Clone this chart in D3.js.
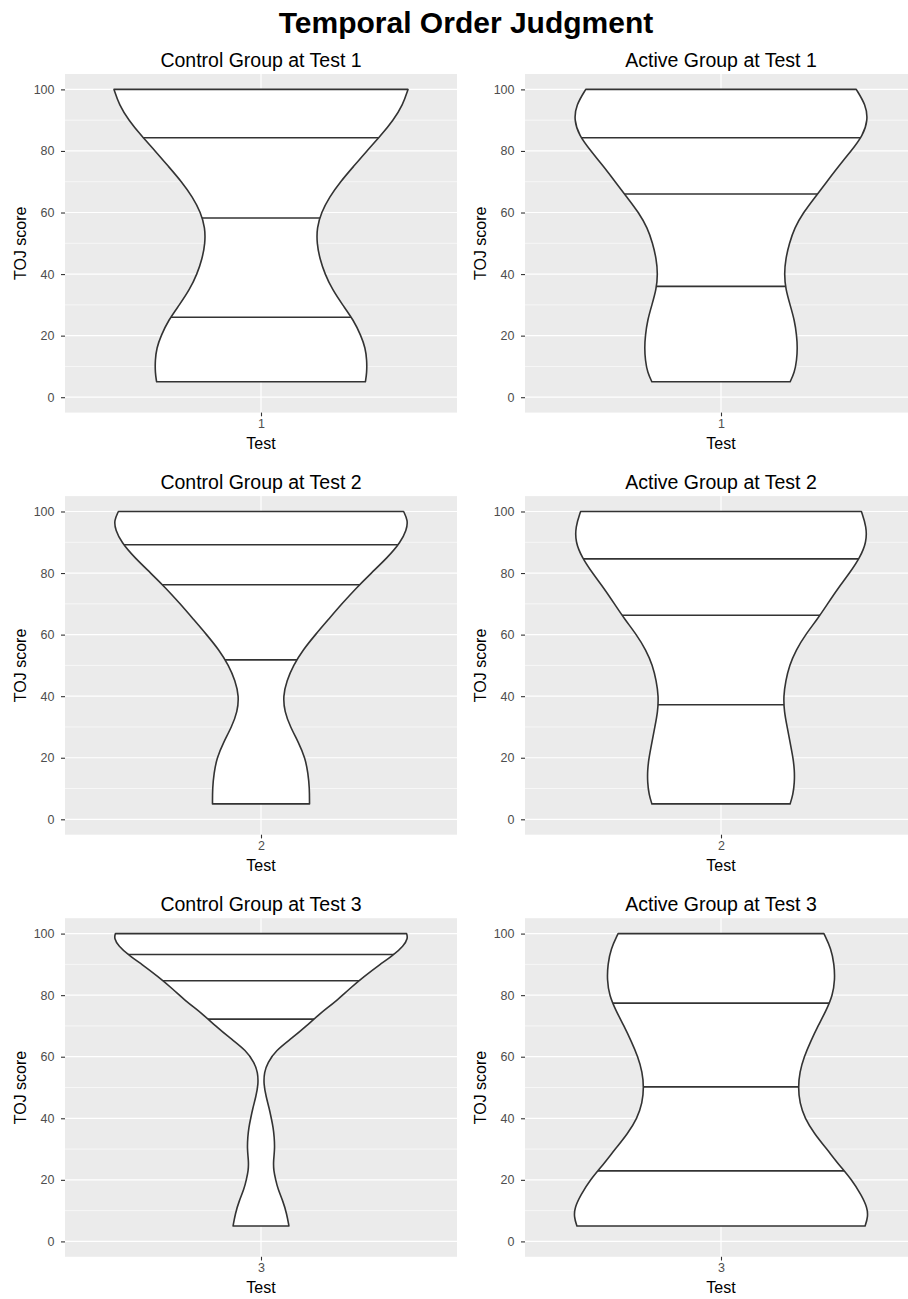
<!DOCTYPE html>
<html>
<head>
<meta charset="utf-8">
<script src="https://cdn.jsdelivr.net/npm/d3@7/dist/d3.min.js"></script>
<style>
  html, body { margin: 0; padding: 0; background: #ffffff; }
  svg { display: block; font-family: "Liberation Sans", Arial, Helvetica, sans-serif; }
</style>
</head>
<body>
<svg id="chart" width="908" height="1299"></svg>
<script>
// ---------------- data ----------------
const mainTitle = "Temporal Order Judgment";
const panelTitles = [
  "Control Group at Test 1", "Active Group at Test 1",
  "Control Group at Test 2", "Active Group at Test 2",
  "Control Group at Test 3", "Active Group at Test 3"
];
const testLabels = ["1", "1", "2", "2", "3", "3"];
const yTicks = [0, 20, 40, 60, 80, 100];
const yMinorTicks = [10, 30, 50, 70, 90];
const xAxisTitle = "Test";
const yAxisTitle = "TOJ score";

// violin outlines: [TOJ score, relative half-width (density scaled to max 1)]
const controlTest1Profile = [[5,0.71],[8,0.72],[12,0.72],[16,0.71],[20,0.68],[25,0.63],[30,0.555],[35,0.485],[40,0.435],[45,0.40],[50,0.38],[55,0.38],[60,0.41],[65,0.465],[70,0.54],[75,0.63],[80,0.72],[85,0.815],[90,0.90],[95,0.965],[100,1.0]];
const activeTest1Profile  = [[5,0.47],[8,0.50],[12,0.515],[16,0.52],[20,0.515],[25,0.50],[30,0.47],[35,0.44],[40,0.43],[45,0.44],[50,0.465],[55,0.50],[60,0.56],[65,0.64],[70,0.72],[75,0.80],[80,0.885],[85,0.965],[90,1.0],[95,0.985],[100,0.92]];
const controlTest2Profile = [[5,0.33],[10,0.33],[15,0.32],[20,0.30],[25,0.255],[30,0.20],[35,0.16],[40,0.15],[45,0.175],[50,0.22],[55,0.285],[60,0.37],[65,0.46],[70,0.55],[75,0.645],[80,0.75],[85,0.86],[90,0.95],[94,0.99],[97,1.0],[100,0.97]];
const activeTest2Profile  = [[5,0.47],[8,0.49],[12,0.50],[16,0.50],[20,0.49],[25,0.47],[30,0.45],[35,0.43],[40,0.425],[45,0.44],[50,0.465],[55,0.51],[60,0.575],[65,0.655],[70,0.725],[75,0.795],[80,0.875],[85,0.945],[90,0.99],[95,0.99],[100,0.955]];
const controlTest3Profile = [[5,0.19],[9,0.175],[13,0.15],[17,0.115],[20,0.10],[23,0.086],[26,0.084],[30,0.094],[34,0.09],[37,0.083],[40,0.07],[43,0.057],[47,0.035],[51,0.018],[55,0.022],[58,0.045],[62,0.10],[66,0.21],[70,0.31],[74,0.40],[78,0.51],[82,0.60],[86,0.70],[90,0.81],[93,0.90],[96,0.97],[98.5,1.0],[100,0.99]];
const activeTest3Profile  = [[5,0.98],[8,1.0],[11,0.995],[15,0.955],[20,0.89],[25,0.80],[30,0.72],[35,0.635],[40,0.57],[45,0.535],[50,0.525],[55,0.535],[60,0.565],[65,0.61],[70,0.66],[75,0.715],[80,0.76],[85,0.775],[90,0.77],[95,0.75],[100,0.70]];

// quantile lines (25%, 50%, 75%)
const controlTest1Quantiles = [26.0, 58.2, 84.3];
const activeTest1Quantiles  = [36.0, 66.0, 84.3];
const controlTest2Quantiles = [51.8, 76.2, 89.2];
const activeTest2Quantiles  = [37.2, 66.3, 84.6];
const controlTest3Quantiles = [72.2, 84.7, 93.2];
const activeTest3Quantiles  = [22.9, 50.2, 77.4];

const profiles = [controlTest1Profile, activeTest1Profile, controlTest2Profile, activeTest2Profile, controlTest3Profile, activeTest3Profile];
const quantiles = [controlTest1Quantiles, activeTest1Quantiles, controlTest2Quantiles, activeTest2Quantiles, controlTest3Quantiles, activeTest3Quantiles];

// ---------------- layout ----------------
const panelLeft = [65, 525];
const panelW = 392;
const panelTop = [74, 496.1, 918.2];
const panelH = 338.6;

const svg = d3.select("#chart");

svg.append("text")
  .attr("x", 466).attr("y", 33)
  .attr("text-anchor", "middle")
  .attr("font-size", 30).attr("font-weight", "bold")
  .attr("fill", "#000")
  .text(mainTitle);

const defs = svg.append("defs");

profiles.forEach((prof, i) => {
  const col = i % 2, row = Math.floor(i / 2);
  const left = panelLeft[col], top = panelTop[row];

  const x = d3.scalePoint().domain([testLabels[i]]).range([left, left + panelW]).padding(0.5);
  const y = d3.scaleLinear().domain([-5, 105]).range([top + panelH, top]);
  const wScale = d3.scaleLinear().domain([0, 1]).range([0, panelW / 1.2 * 0.45]);
  const cx = x(testLabels[i]);

  const g = svg.append("g");

  // panel background
  g.append("rect").attr("x", left).attr("y", top).attr("width", panelW).attr("height", panelH).attr("fill", "#EBEBEB");

  // minor grid
  g.selectAll(".minor").data(yMinorTicks).enter().append("line")
    .attr("x1", left).attr("x2", left + panelW)
    .attr("y1", d => y(d)).attr("y2", d => y(d))
    .attr("stroke", "#fff").attr("stroke-width", 0.6);
  // major grid
  g.selectAll(".major").data(yTicks).enter().append("line")
    .attr("x1", left).attr("x2", left + panelW)
    .attr("y1", d => y(d)).attr("y2", d => y(d))
    .attr("stroke", "#fff").attr("stroke-width", 1.2);
  g.append("line")
    .attr("x1", cx).attr("x2", cx).attr("y1", top).attr("y2", top + panelH)
    .attr("stroke", "#fff").attr("stroke-width", 1.2);

  // violin
  const area = d3.area()
    .curve(d3.curveBasis)
    .y(d => y(d[0]))
    .x0(d => cx - wScale(d[1]))
    .x1(d => cx + wScale(d[1]));
  const pathD = area(prof);

  defs.append("clipPath").attr("id", "vclip" + i).append("path").attr("d", pathD);

  g.append("path").attr("d", pathD)
    .attr("fill", "#fff").attr("stroke", "none");

  g.append("g").attr("clip-path", `url(#vclip${i})`)
    .selectAll("line").data(quantiles[i]).enter().append("line")
    .attr("x1", left).attr("x2", left + panelW)
    .attr("y1", d => y(d)).attr("y2", d => y(d))
    .attr("stroke", "#333").attr("stroke-width", 1.6);

  g.append("path").attr("d", pathD)
    .attr("fill", "none").attr("stroke", "#333").attr("stroke-width", 1.6)
    .attr("stroke-linejoin", "round");

  // y axis
  const yAxis = d3.axisLeft(y).tickValues(yTicks).tickSize(4).tickPadding(6.5);
  const ya = svg.append("g").attr("transform", `translate(${left},0)`).call(yAxis);
  ya.select(".domain").remove();
  ya.selectAll(".tick line").attr("stroke", "#333").attr("stroke-width", 1.1);
  ya.selectAll(".tick text").attr("fill", "#4D4D4D").attr("font-size", 12.5)
    .attr("font-family", "'Liberation Sans', Arial, sans-serif");

  // x axis
  const xAxis = d3.axisBottom(x).tickSize(3.7).tickPadding(2.6);
  const xa = svg.append("g").attr("transform", `translate(0,${top + panelH})`).call(xAxis);
  xa.select(".domain").remove();
  xa.selectAll(".tick line").attr("stroke", "#333").attr("stroke-width", 1.1);
  xa.selectAll(".tick text").attr("fill", "#4D4D4D").attr("font-size", 12.5)
    .attr("font-family", "'Liberation Sans', Arial, sans-serif");

  // titles
  svg.append("text")
    .attr("x", left + panelW / 2).attr("y", top - 7)
    .attr("text-anchor", "middle").attr("font-size", 19.5).attr("fill", "#000")
    .text(panelTitles[i]);

  svg.append("text")
    .attr("x", left + panelW / 2).attr("y", top + panelH + 36.3)
    .attr("text-anchor", "middle").attr("font-size", 16).attr("fill", "#000")
    .text(xAxisTitle);

  svg.append("text")
    .attr("transform", `translate(${left - 39},${top + panelH / 2}) rotate(-90)`)
    .attr("text-anchor", "middle").attr("font-size", 16).attr("fill", "#000")
    .text(yAxisTitle);
});
</script>
</body>
</html>
